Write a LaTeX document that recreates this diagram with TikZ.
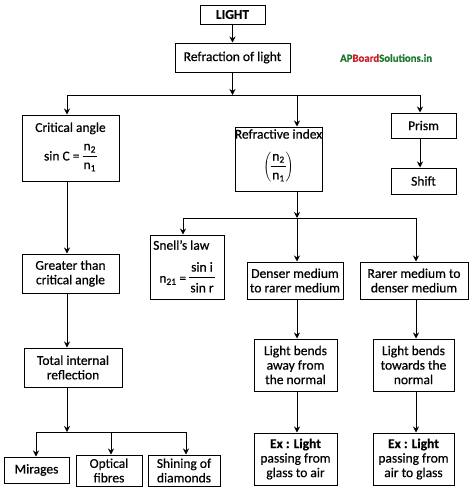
\documentclass[tikz,border=0pt]{standalone}
\usepackage{fontspec}
\setmainfont{Carlito}[FakeBold=0.5]
\usetikzlibrary{arrows.meta}
\definecolor{wmgreen}{RGB}{25,120,45}
\definecolor{wmred}{RGB}{205,30,40}
\newcommand{\myfr}[3][13pt]{\ensuremath{\vcenter{\hbox{\setlength{\tabcolsep}{1pt}\begin{tabular}{c}#2\\[1pt]\hline\rule{0pt}{#1}#3\end{tabular}}}}}
\begin{document}
\begin{tikzpicture}[x=1pt,y=-1pt,
  box/.style={draw, line width=1pt, inner sep=0pt, align=center, font=\fontsize{13.5}{14.5}\selectfont},
  txt/.style={inner sep=0pt, align=center, font=\fontsize{13.5}{14.5}\selectfont},
  arr/.style={line width=0.9pt, -{Stealth[length=6pt,width=6pt]}},
  ln/.style={line width=0.9pt}]
\useasboundingbox (0,0) rectangle (474,490);
% boxes
\node[box, minimum width=65pt, minimum height=19pt] (light) at (232.5,14.5) {\textbf{LIGHT}};
\node[box, minimum width=115pt, minimum height=29pt] (refr) at (232.5,57.5) {Refraction of light};
\node[box, minimum width=97pt, minimum height=66pt] (crit) at (70.5,148) {Critical angle\\[5pt] sin C = \myfr{n\textsubscript{2}}{n\textsubscript{1}}};
\node[box, minimum width=87pt, minimum height=64pt] (refidx) at (278.5,159) {};
\node[txt] (refidxt) at (278.5,134) {Refractive index};
\node[txt] (refidxf) at (278.5,167) {$\Biggl(\myfr{n\textsubscript{2}}{n\textsubscript{1}}\Biggr)$};
\node[box, minimum width=65pt, minimum height=25pt] (prism) at (423.5,125.5) {Prism};
\node[box, minimum width=65pt, minimum height=26pt] (shift) at (423.5,181) {Shift};
\node[box, minimum width=74pt, minimum height=64pt] (snell) at (187,267) {};
\node[txt, anchor=north west] (snellt) at (153,240) {Snell's law};
\node[txt] (snellf) at (187,279) {n\textsubscript{21} = \myfr[15pt]{sin i}{sin r}};
\node[box, minimum width=96pt, minimum height=37pt] (denser) at (295,280.5) {Denser medium\\to rarer medium};
\node[box, minimum width=108pt, minimum height=37pt] (rarer) at (414,280.5) {Rarer medium to\\denser medium};
\node[box, minimum width=97pt, minimum height=39pt] (greater) at (70.5,273.5) {Greater than\\critical angle};
\node[box, minimum width=98pt, minimum height=39pt] (total) at (73,367.5) {Total internal\\reflection};
\node[box, minimum width=83pt, minimum height=52pt] (lbaway) at (295.5,365) {Light bends\\away from\\the normal};
\node[box, minimum width=81pt, minimum height=52pt] (lbtow) at (413.5,365) {Light bends\\towards the\\normal};
\node[box, minimum width=83pt, minimum height=52pt] (ex1) at (295.5,459) {\textbf{Ex : Light}\\passing from\\glass to air};
\node[box, minimum width=81pt, minimum height=52pt] (ex2) at (413.5,459) {\textbf{Ex : Light}\\passing from\\air to glass};
\node[box, minimum width=65pt, minimum height=26pt] (mirages) at (36.5,470) {Mirages};
\node[box, minimum width=66pt, minimum height=31pt] (optical) at (109,470.5) {Optical\\fibres};
\node[box, minimum width=72pt, minimum height=31pt] (shining) at (184,470.5) {Shining of\\diamonds};
% watermark
\node[inner sep=0pt, anchor=west, font=\fontsize{10.8}{12}\selectfont\bfseries] (wm) at (340,58) {\textcolor{wmgreen}{AP}\textcolor{wmred}{Board}\textcolor{wmgreen}{Solutions.in}};
% junction coordinates
\coordinate (b1) at (232.5,95);
\coordinate (b1l) at (67,95);
\coordinate (b1m) at (297,95);
\coordinate (b1r) at (420,95);
\coordinate (b2) at (297,218);
\coordinate (b2l) at (183,218);
\coordinate (b2r) at (416,218);
\coordinate (b3) at (67,432);
\coordinate (b3l) at (36,432);
\coordinate (b3m) at (111,432);
\coordinate (b3r) at (186,432);
% connectors
\draw[arr] (light) -- (refr);
\draw[arr] (refr.south) -- (b1);
\draw[ln] (b1l) -- (b1r);
\draw[arr] (b1l) -- (b1l |- crit.north);
\draw[arr] (b1m) -- (b1m |- refidx.north);
\draw[arr] (b1r) -- (b1r |- prism.north);
\draw[arr] (prism.south -| b1r) -- (shift.north -| b1r);
\draw[arr] (refidx.south -| b2) -- (b2);
\draw[ln] (b2l) -- (b2r);
\draw[arr] (b2l) -- (b2l |- snell.north);
\draw[arr] (b2) -- (b2 |- denser.north);
\draw[arr] (b2r) -- (b2r |- rarer.north);
\draw[arr] (crit.south -| b1l) -- (greater.north -| b1l);
\draw[arr] (greater.south -| b1l) -- (total.north -| b1l);
\draw[arr] (total.south -| b3) -- (b3);
\draw[ln] (b3l) -- (b3r);
\draw[arr] (b3l) -- (b3l |- mirages.north);
\draw[arr] (b3m) -- (b3m |- optical.north);
\draw[arr] (b3r) -- (b3r |- shining.north);
\draw[arr] (denser.south -| b2) -- (lbaway.north -| b2);
\draw[arr] (lbaway.south -| b2) -- (ex1.north -| b2);
\draw[arr] (rarer.south -| b2r) -- (lbtow.north -| b2r);
\draw[arr] (lbtow.south -| b2r) -- (ex2.north -| b2r);
\end{tikzpicture}
\end{document}
